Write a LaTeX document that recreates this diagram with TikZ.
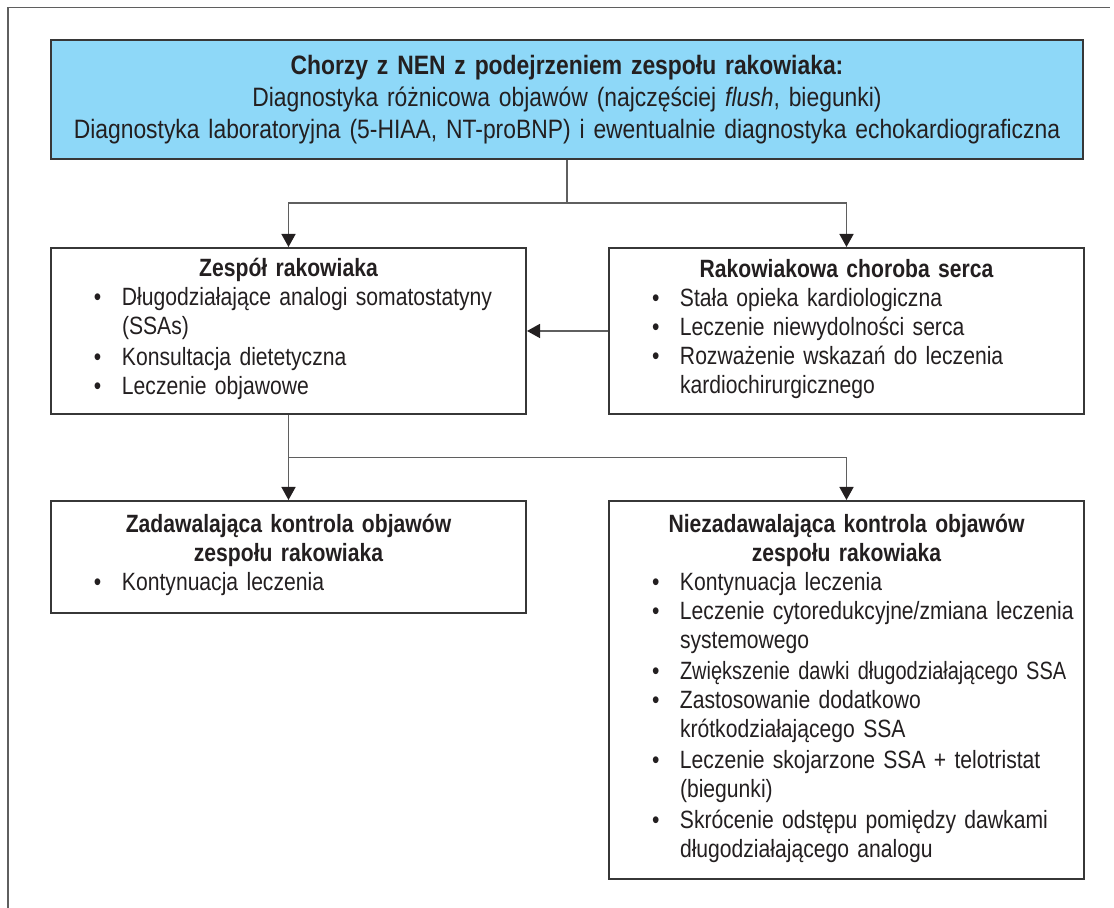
\documentclass[tikz,border=0pt]{standalone}
\usepackage{fontspec}
\setmainfont[FakeStretch=0.86,WordSpace=0.85]{Liberation Sans}
\newfontfamily\pudelko[FakeStretch=0.845,WordSpace=0.8]{Liberation Sans}
\newfontfamily\waski[FakeStretch=0.8,WordSpace=0.8]{Liberation Sans}
\usetikzlibrary{positioning,calc,arrows.meta}

\definecolor{nenblue}{RGB}{142,216,248}
\definecolor{ramka}{RGB}{55,55,55}
\definecolor{linia}{RGB}{95,95,95}
\definecolor{tekst}{RGB}{35,31,32}

\newcommand{\nagl}[1]{\centerline{\bfseries #1}}
\newcommand{\pkt}[1]{\par\noindent\hbox to 35.5pt{\hskip 21.5pt\textbullet\hss}%
	\begin{tabular}[t]{@{}l@{}}#1\end{tabular}}

\begin{document}
\begin{tikzpicture}[>={Triangle[width=7pt,length=6.5pt,color=tekst]},
		top node/.style={rectangle,draw=ramka,line width=1pt,fill=nenblue,text=tekst,
			minimum width=516pt,minimum height=59.5pt,text width=516pt,inner xsep=0pt,
			align=center,font=\fontsize{13.3}{16}\selectfont},
		main node/.style={rectangle,draw=ramka,line width=1pt,text=tekst,
			minimum width=237.5pt,text width=237.5pt,inner xsep=0pt,inner ysep=0pt,
			align=left,font=\pudelko\fontsize{12.5}{14.5}\selectfont},
		conn/.style={draw=linia,line width=0.75pt}]

		\useasboundingbox (0,0) rectangle (557pt,-454pt);
		\draw[linia,line width=0.7pt] (4pt,-454pt) -- (4pt,-3.75pt) -- (555pt,-3.75pt);

		\node[top node,anchor=north west] (nen) at (25pt,-19.5pt)
			{\textbf{Chorzy z NEN z podejrzeniem zespołu rakowiaka:}\\
			Diagnostyka różnicowa objawów (najczęściej \textit{flush}, biegunki)\\
			Diagnostyka laboratoryjna (5-HIAA, NT-proBNP) i ewentualnie diagnostyka echokardiograficzna};

		\node[main node,minimum height=83pt] (zr) [below=43.5pt of nen.south west,anchor=north west]
			{\nagl{Zespół rakowiaka}
			\pkt{Długodziałające analogi somatostatyny\\(SSAs)}
			\pkt{Konsultacja dietetyczna}
			\pkt{Leczenie objawowe}};
		\node[main node,minimum height=83pt] (rcs) [right=40.5pt of zr]
			{\nagl{Rakowiakowa choroba serca}
			\pkt{Stała opieka kardiologiczna}
			\pkt{Leczenie niewydolności serca}
			\pkt{Rozważenie wskazań do leczenia\\kardiochirurgicznego}};

		\node[main node,minimum height=56pt] (zad) [below=42.5pt of zr.south west,anchor=north west]
			{\nagl{Zadawalająca kontrola objawów}
			\nagl{zespołu rakowiaka}
			\pkt{Kontynuacja leczenia}};
		\node[main node,minimum height=189pt] (niez) [below=42.5pt of rcs.south west,anchor=north west]
			{\nagl{Niezadawalająca kontrola objawów}
			\nagl{zespołu rakowiaka}
			\pkt{Kontynuacja leczenia}
			\pkt{Leczenie cytoredukcyjne/zmiana leczenia\\systemowego}
			\pkt{{\waski Zwiększenie dawki długodziałającego SSA}}
			\pkt{Zastosowanie dodatkowo\\krótkodziałającego SSA}
			\pkt{Leczenie skojarzone SSA + telotristat\\(biegunki)}
			\pkt{Skrócenie odstępu pomiędzy dawkami\\długodziałającego analogu}};

		\coordinate (j1) at ($(nen.south |- zr.north)+(0,22pt)$);
		\coordinate (j2) at ($(zr.south)!0.5!(zad.north)$);

		\draw[conn] (nen.south) -- (j1);
		\draw[conn,->] (j1) -| (zr.north);
		\draw[conn,->] (j1) -| (rcs.north);
		\draw[conn,->] (rcs.west) -- (zr.east);
		\draw[conn,->] (zr.south) -- (zad.north);
		\draw[conn,->] (j2) -| (niez.north);
\end{tikzpicture}
\end{document}
